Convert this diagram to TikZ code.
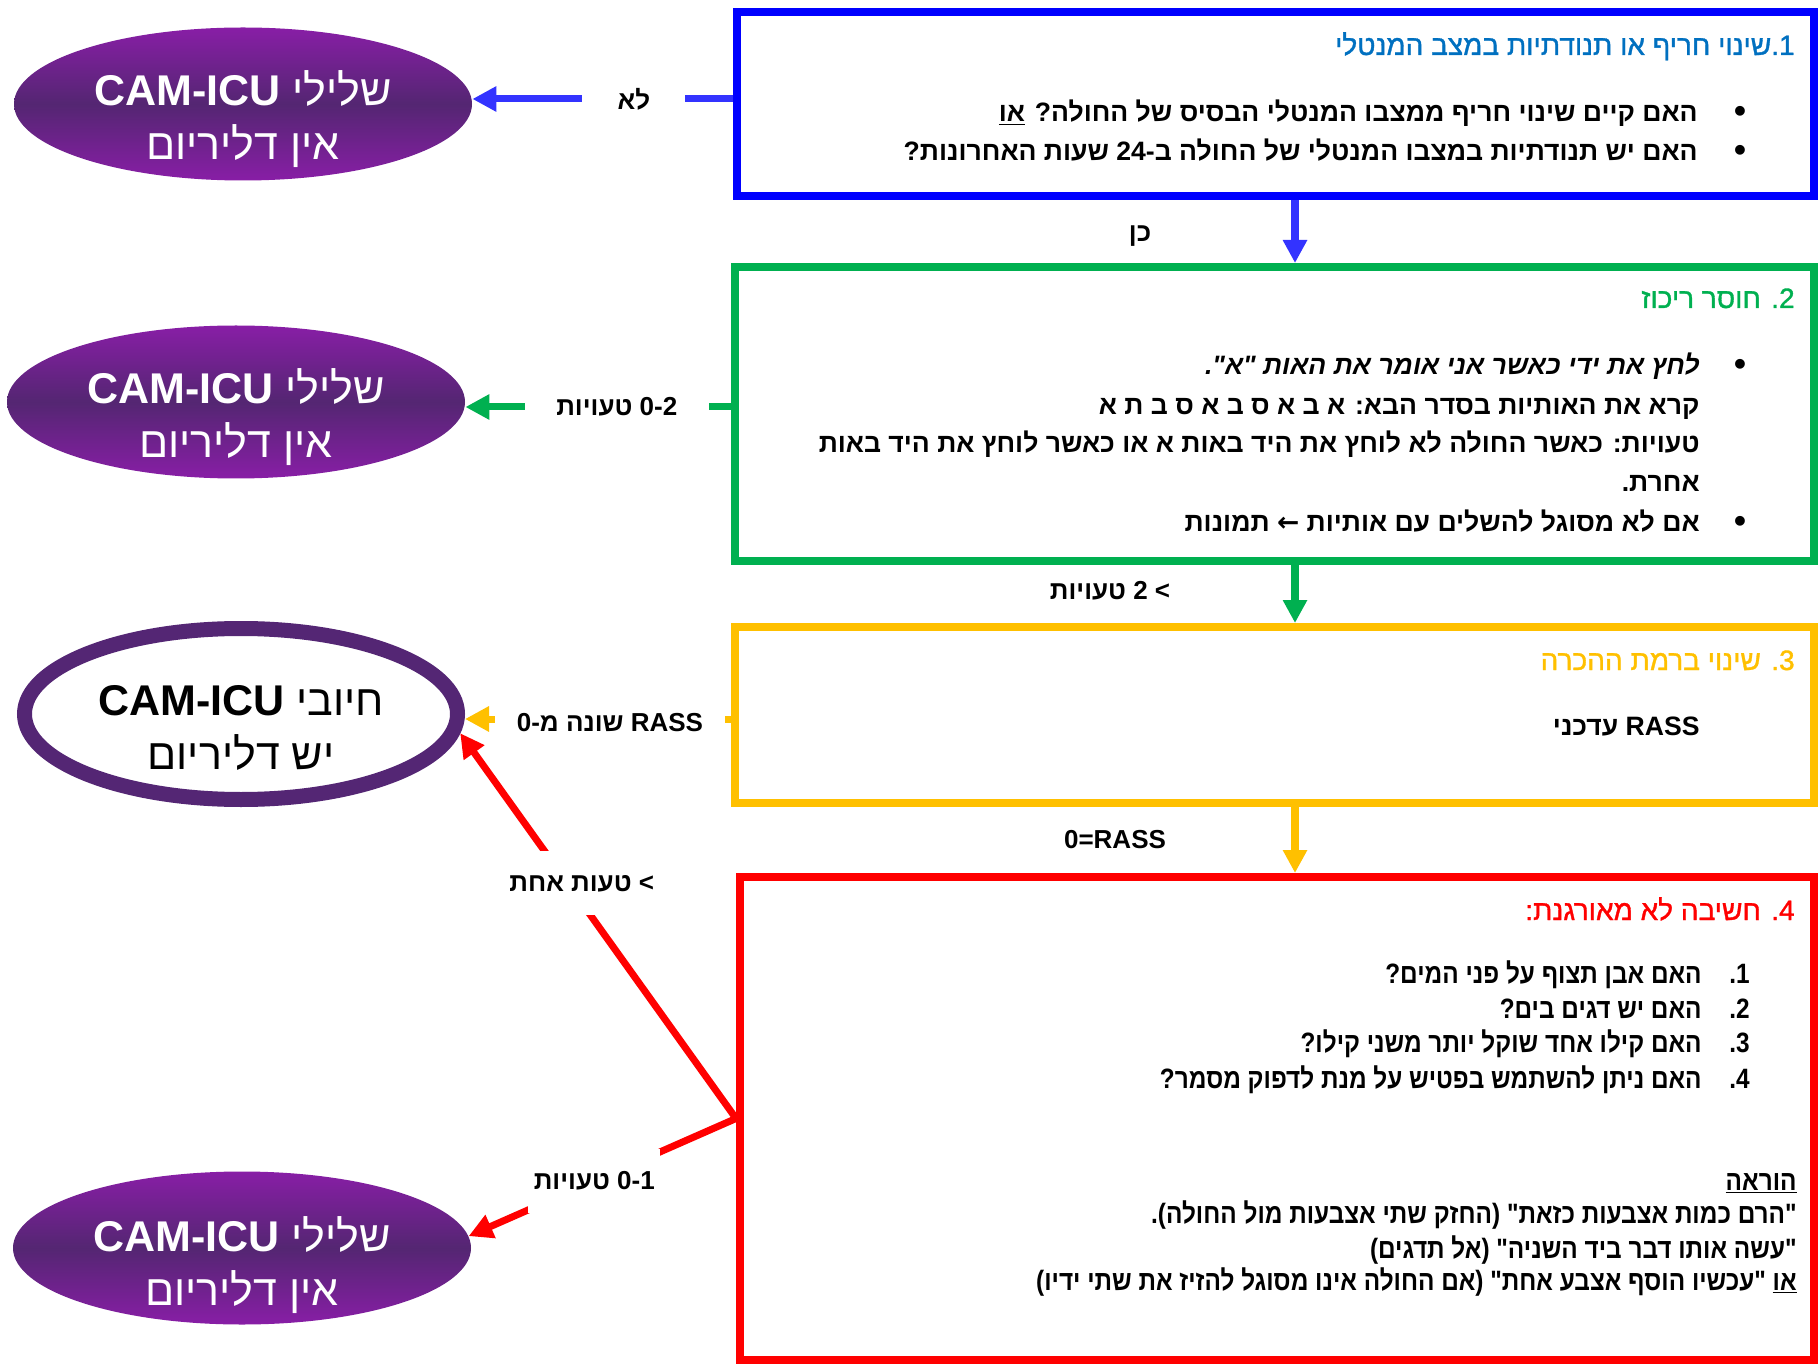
\documentclass[tikz,border=0pt]{standalone}
\usepackage{fontspec}
\setmainfont{Liberation Sans}
\newfontfamily\hebfont[Script=Hebrew]{Liberation Sans}
\newfontfamily\hebtitle[Script=Hebrew, FakeBold=1.2]{Liberation Sans}
\newfontfamily\hebnarrow[Script=Hebrew, FakeStretch=0.87]{Liberation Sans}
\newfontfamily\symfont{DejaVu Sans}
\usepackage{xcolor}
\usepackage{tikz}
\usetikzlibrary{shapes.geometric,arrows.meta}
\TeXXeTstate=1
\newcommand{\heb}[1]{{\hebfont\beginR #1\endR}}
\newcommand{\hebt}[1]{{\hebtitle\beginR #1\endR}}
\newcommand{\hebn}[1]{{\hebnarrow\beginR #1\endR}}

\definecolor{boxblue}{RGB}{0,0,255}
\definecolor{titleblue}{RGB}{0,112,192}
\definecolor{arrowblue}{RGB}{51,51,255}
\definecolor{boxgreen}{RGB}{0,176,80}
\definecolor{boxyellow}{RGB}{255,192,0}
\definecolor{boxred}{RGB}{255,0,0}
\definecolor{ovaltop}{RGB}{136,30,166}
\definecolor{ovalmid}{RGB}{84,38,114}
\definecolor{ovalline}{RGB}{84,38,116}

\tikzset{
  stepbox/.style={draw, line width=4pt, inner sep=0pt},
  negoval/.style={ellipse, inner sep=0pt, minimum width=229pt, minimum height=76.5pt,
    top color=ovaltop, bottom color=ovaltop, middle color=ovalmid},
  posoval/.style={ellipse, draw=ovalline, line width=7.5pt, fill=white, inner sep=0pt,
    minimum width=216.5pt, minimum height=85.5pt},
  ovaltext/.style={inner sep=0pt, align=center, font=\fontsize{21.5}{27}\selectfont},
  steptitle/.style={anchor=base east, inner sep=0pt, font=\fontsize{14}{16}\selectfont},
  steptext/.style={anchor=base east, inner sep=0pt, font=\fontsize{13.3}{15}\selectfont\bfseries},
  narrowtext/.style={anchor=base east, inner sep=0pt, font=\fontsize{14}{16}\selectfont\bfseries},
  bulletdot/.style={anchor=base, inner sep=0pt, font=\fontsize{17}{17}\selectfont\bfseries},
  conn/.style={line width=3.5pt, -{Triangle[length=12pt,width=12pt]}},
  flow/.style={line width=4pt, -{Triangle[length=11.5pt,width=11.5pt]}},
  gaplabel/.style={fill=white, inner sep=0pt, text=black, font=\fontsize{13}{15}\selectfont\bfseries},
  flowlabel/.style={inner sep=0pt, text=black, font=\fontsize{13}{15}\selectfont\bfseries}
}

\begin{document}
\begin{tikzpicture}[x=0.5pt, y=-0.5pt]
    \fill[white] (0,0) rectangle (1818,1368);
    \useasboundingbox (0,0) rectangle (1818,1368);

    % Steps
    \node[stepbox, draw=boxblue, minimum width=538.5pt, minimum height=92pt] (box1) at (1275.5,104) {};
    \node[stepbox, draw=boxgreen, minimum width=539.5pt, minimum height=147pt] (box2) at (1274.5,414) {};
    \node[stepbox, draw=boxyellow, minimum width=539.5pt, minimum height=88pt] (box3) at (1274.5,715) {};
    \node[stepbox, draw=boxred, minimum width=537pt, minimum height=241.5pt] (box4) at (1277,1118.5) {};

    % Step 1
    \node[steptitle, text=titleblue] (title1) at (1795,55) {\hebt{1.שינוי חריף או תנודתיות במצב המנטלי}};
    \node[bulletdot] (dot11) at (1740,123) {•};
    \node[steptext] (q11) at (1698,122) {\heb{האם קיים שינוי חריף ממצבו המנטלי הבסיס של החולה? \underline{או}}};
    \node[bulletdot] (dot12) at (1740,162) {•};
    \node[steptext] (q12) at (1698,161) {\heb{האם יש תנודתיות במצבו המנטלי של החולה ב-24 שעות האחרונות?}};

    % Step 2
    \node[steptitle, text=boxgreen] (title2) at (1795,308) {\hebt{2. חוסר ריכוז}};
    \node[bulletdot] (dot21) at (1740,376) {•};
    \node[steptext] (q21) at (1700,375) {\heb{\itshape לחץ את ידי כאשר אני אומר את האות "א".}};
    \node[steptext] (q22) at (1700,415) {\heb{קרא את האותיות בסדר הבא: א ב א ס ב א ס ב ת א}};
    \node[steptext] (q23) at (1700,453) {\heb{טעויות: כאשר החולה לא לוחץ את היד באות א או כאשר לוחץ את היד באות}};
    \node[steptext] (q24) at (1700,492) {\heb{אחרת.}};
    \node[bulletdot] (dot25) at (1740,533) {•};
    \node[steptext] (q25) at (1700,532) {\heb{אם לא מסוגל להשלים עם אותיות {\symfont ←} תמונות}};

    % Step 3
    \node[steptitle, text=boxyellow] (title3) at (1795,670) {\hebt{3. שינוי ברמת ההכרה}};
    \node[steptext] (q31) at (1700,735) {\heb{RASS עדכני}};

    % Step 4
    \node[steptitle, text=boxred] (title4) at (1795,920) {\hebt{4. חשיבה לא מאורגנת:}};
    \node[narrowtext] (n41) at (1750,983) {\hebn{1.}};
    \node[narrowtext] (q41) at (1702,983) {\hebn{האם אבן תצוף על פני המים?}};
    \node[narrowtext] (n42) at (1750,1018) {\hebn{2.}};
    \node[narrowtext] (q42) at (1702,1018) {\hebn{האם יש דגים בים?}};
    \node[narrowtext] (n43) at (1750,1052) {\hebn{3.}};
    \node[narrowtext] (q43) at (1702,1052) {\hebn{האם קילו אחד שוקל יותר משני קילו?}};
    \node[narrowtext] (n44) at (1750,1088) {\hebn{4.}};
    \node[narrowtext] (q44) at (1702,1088) {\hebn{האם ניתן להשתמש בפטיש על מנת לדפוק מסמר?}};
    \node[narrowtext] (howto) at (1797,1190) {\hebn{\underline{הוראה}}};
    \node[narrowtext] (i41) at (1797,1223) {\hebn{"הרם כמות אצבעות כזאת" (החזק שתי אצבעות מול החולה).}};
    \node[narrowtext] (i42) at (1797,1258) {\hebn{"עשה אותו דבר ביד השניה" (אל תדגים)}};
    \node[narrowtext] (i43) at (1797,1290) {\hebn{\underline{או} "עכשיו הוסף אצבע אחת" (אם החולה אינו מסוגל להזיז את שתי ידיו)}};

    % Results
    \node[negoval] (e1) at (243,104) {};
    \node[ovaltext, text=white] (e1text) at (243,119) {{\bfseries CAM-ICU} \heb{שלילי}\\\heb{אין דליריום}};
    \node[negoval] (e2) at (236,402) {};
    \node[ovaltext, text=white] (e2text) at (236,417) {{\bfseries CAM-ICU} \heb{שלילי}\\\heb{אין דליריום}};
    \node[posoval] (e3) at (241,714) {};
    \node[ovaltext] (e3text) at (241,728) {{\bfseries CAM-ICU} \heb{חיובי}\\\heb{יש דליריום}};
    \node[negoval] (e4) at (242,1248) {};
    \node[ovaltext, text=white] (e4text) at (242,1265) {{\bfseries CAM-ICU} \heb{שלילי}\\\heb{אין דליריום}};

    % Exits to the left
    \draw[conn, arrowblue] ([yshift=2.5pt]box1.west) -- node[gaplabel, pos=.38, minimum width=51.5pt, minimum height=20pt] {\heb{לא}} ([yshift=2.5pt]box1.west -| e1.east);
    \draw[conn, boxgreen] ([yshift=3.5pt]box2.west) -- node[gaplabel, pos=.43, minimum width=92pt, minimum height=20pt] {\heb{0-2 טעויות}} ([yshift=3.5pt]box2.west -| e2.east);
    \draw[conn, boxyellow] ([yshift=-2pt]box3.west) -- node[gaplabel, pos=.455, yshift=-2pt, minimum width=115pt, minimum height=20pt] {\heb{RASS שונה מ-0}} ([yshift=-2pt]box3.west -| e3.east);
    \draw[conn, boxred] (box4.west) -- node[gaplabel, pos=.61, xshift=7pt, minimum height=32pt] {\heb{> טעות אחת}} (e3.-5);
    \draw[conn, boxred] (box4.west) -- node[gaplabel, pos=.53, minimum width=66pt, minimum height=32pt] {\heb{0-1 טעויות}} (e4.3);

    % Flow downwards
    \coordinate (mid) at (1295,0);
    \draw[flow, arrowblue] (box1.south -| mid) -- node[flowlabel, pos=.58, xshift=-77.5pt] {\heb{כן}} (box2.north -| mid);
    \draw[flow, boxgreen] (box2.south -| mid) -- node[flowlabel, pos=.45, xshift=-92.5pt] {\heb{> 2 טעויות}} (box3.north -| mid);
    \draw[flow, boxyellow] (box3.south -| mid) -- node[flowlabel, xshift=-90pt] {0=RASS} (box4.north -| mid);
\end{tikzpicture}
\end{document}
